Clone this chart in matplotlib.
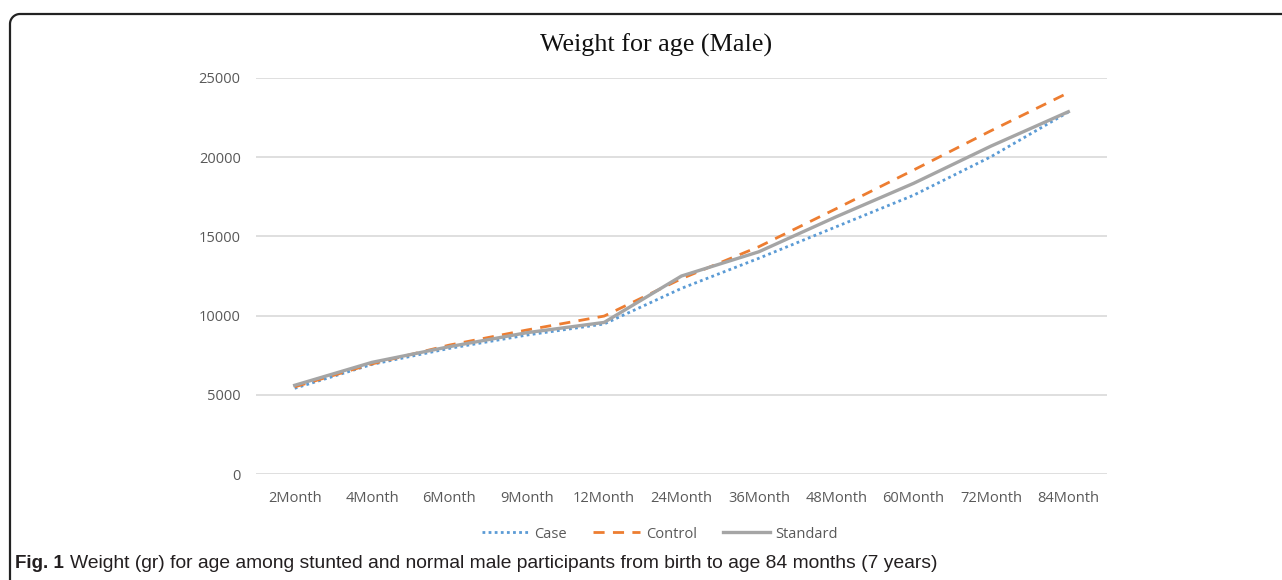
import matplotlib
matplotlib.use("Agg")
import matplotlib.pyplot as plt
import numpy as np
from matplotlib.lines import Line2D

categories = ["2Month", "4Month", "6Month", "9Month", "12Month", "24Month",
              "36Month", "48Month", "60Month", "72Month", "84Month"]
case = [5410, 6920, 7930, 8770, 9470, 11720, 13620, 15610, 17600, 20030, 22850]
control = [5500, 6950, 8140, 9090, 9970, 12330, 14350, 16750, 19190, 21670, 24070]
standard = [5600, 7050, 8040, 8920, 9570, 12500, 14030, 16240, 18350, 20700, 22870]
yticks = [0, 5000, 10000, 15000, 20000, 25000]

W, H = 1282, 580
fig = plt.figure(figsize=(W / 100, H / 100), dpi=100)

# rounded frame (top-left corner), in pixel coords converted to figure fraction
r = 10
theta = np.linspace(np.pi, np.pi / 2, 20)
arc_x = 10 + r + r * np.cos(theta)
arc_y = 14 + r - r * np.sin(theta)
px = np.concatenate([[10], arc_x, [W + 10]])
py = np.concatenate([[H + 10], arc_y, [14]])
frame = Line2D(px / W, 1 - py / H, transform=fig.transFigure, color="#222222",
               linewidth=1.6, clip_on=False, solid_capstyle="butt")
fig.lines.append(frame)

ax = fig.add_axes([256 / W, 1 - 474 / H, (1107 - 256) / W, (474 - 78) / H])
x = list(range(len(categories)))
lc, = ax.plot(x, case, color="#5B9BD5", linestyle=(0, (1, 1.2)), linewidth=2.0, label="Case")
lo, = ax.plot(x, control, color="#ED7D31", linestyle=(0, (4, 3)), linewidth=2.0, label="Control")
ls, = ax.plot(x, standard, color="#A5A5A5", linestyle="-", linewidth=2.4, label="Standard")

ax.set_xlim(-0.5, len(categories) - 0.5)
ax.set_ylim(0, 25000)
ax.set_yticks(yticks)
ax.set_yticklabels([str(v) for v in yticks])
ax.set_xticks(x)
ax.set_xticklabels(categories)
ax.grid(axis="y", color="#D9D9D9", linewidth=1.2)
ax.set_axisbelow(True)
for s in ax.spines.values():
    s.set_visible(False)
ax.tick_params(axis="both", length=0, labelsize=10.5, labelcolor="#595959", pad=12)
ax.tick_params(axis="y", pad=11)
for t in ax.get_xticklabels() + ax.get_yticklabels():
    t.set_fontfamily(["Open Sans", "DejaVu Sans"])

fig.text(656 / W, 1 - 45 / H, "Weight for age (Male)", ha="center", va="center",
         fontsize=18.8, family=["Liberation Serif", "DejaVu Serif"], color="#111111")

leg = fig.legend(handles=[lc, lo, ls], loc="center", bbox_to_anchor=(660 / W, 1 - 534 / H),
                 ncol=3, frameon=False, handlelength=3.2, columnspacing=1.8,
                 handletextpad=0.4,
                 prop={"family": ["Open Sans", "DejaVu Sans"], "size": 10.5})
for t in leg.get_texts():
    t.set_color("#595959")

cap_font = ["Liberation Sans", "DejaVu Sans"]
fig.text(15 / W, 1 - 563 / H, "Fig. 1", ha="left", va="center", fontsize=13.5,
         fontweight="bold", family=cap_font, color="#231F20")
fig.text(70 / W, 1 - 563 / H,
         "Weight (gr) for age among stunted and normal male participants from birth to age 84 months (7 years)",
         ha="left", va="center", fontsize=13.85, family=cap_font, color="#231F20")

fig.savefig("out.png", dpi=100)
